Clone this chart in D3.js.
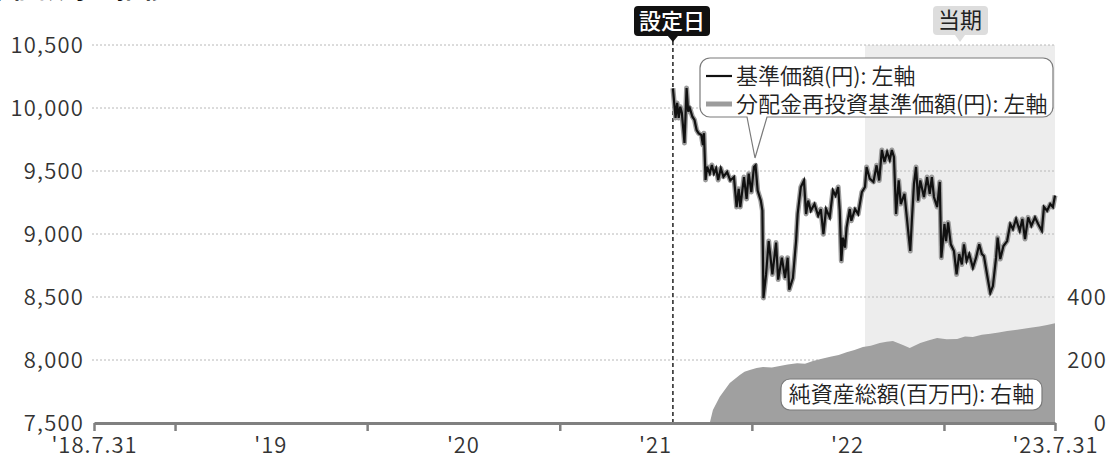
<!DOCTYPE html>
<html><head><meta charset="utf-8">
<script src="https://cdn.jsdelivr.net/npm/d3@7"></script>
<style>
body{margin:0;background:#fff;}
svg text{font-family:"Noto Sans CJK JP","Noto Sans",sans-serif;}
</style>
</head><body>
<svg id="c" width="1110" height="462"></svg>
<script>
// ---------- data ----------
const titleText = "基準価額等の推移";
const xStart = "2018-07-31";
const xEnd = "2023-07-31";
const settingDate = "2021-08-04";
const periodStart = "2022-08-04";

const navDates = ["2021-08-04","2021-08-06","2021-08-09","2021-08-12","2021-08-15","2021-08-18","2021-08-21","2021-08-26","2021-08-30","2021-09-02","2021-09-05","2021-09-10","2021-09-14","2021-09-18","2021-09-22","2021-09-27","2021-09-30","2021-10-02","2021-10-05","2021-10-08","2021-10-13","2021-10-17","2021-10-21","2021-10-25","2021-10-29","2021-11-03","2021-11-08","2021-11-15","2021-11-21","2021-11-28","2021-12-03","2021-12-07","2021-12-10","2021-12-17","2021-12-22","2021-12-26","2021-12-31","2022-01-05","2022-01-08","2022-01-12","2022-01-18","2022-01-21","2022-01-23","2022-01-28","2022-02-02","2022-02-09","2022-02-16","2022-02-20","2022-02-27","2022-03-05","2022-03-10","2022-03-13","2022-03-20","2022-03-26","2022-03-29","2022-04-04","2022-04-10","2022-04-14","2022-04-18","2022-04-23","2022-04-30","2022-05-07","2022-05-12","2022-05-17","2022-05-22","2022-05-29","2022-06-04","2022-06-09","2022-06-14","2022-06-17","2022-06-20","2022-06-23","2022-06-27","2022-06-30","2022-07-06","2022-07-09","2022-07-16","2022-07-22","2022-07-29","2022-08-04","2022-08-07","2022-08-13","2022-08-20","2022-08-26","2022-08-31","2022-09-05","2022-09-10","2022-09-15","2022-09-20","2022-09-24","2022-09-28","2022-10-02","2022-10-07","2022-10-11","2022-10-18","2022-10-25","2022-10-29","2022-11-01","2022-11-05","2022-11-09","2022-11-13","2022-11-17","2022-11-24","2022-11-30","2022-12-05","2022-12-09","2022-12-13","2022-12-19","2022-12-24","2022-12-27","2023-01-02","2023-01-05","2023-01-09","2023-01-14","2023-01-20","2023-01-25","2023-01-30","2023-02-04","2023-02-08","2023-02-13","2023-02-18","2023-02-25","2023-03-03","2023-03-09","2023-03-14","2023-03-18","2023-03-25","2023-03-30","2023-04-04","2023-04-10","2023-04-13","2023-04-18","2023-04-24","2023-05-01","2023-05-07","2023-05-12","2023-05-18","2023-05-25","2023-05-30","2023-06-04","2023-06-10","2023-06-16","2023-06-23","2023-06-29","2023-07-06","2023-07-10","2023-07-16","2023-07-22","2023-07-27","2023-07-31"];

// 基準価額(円)
const navValues = [10156,10063,9921,10040,9921,10010,9960,9722,10159,9971,
  10000,9931,9905,9825,9799,9786,9706,9800,9429,9534,
  9481,9548,9481,9521,9429,9521,9455,9492,9425,9452,
  9214,9359,9214,9452,9278,9479,9333,9532,9545,9345,
  9265,9185,8492,8679,8944,8679,8932,8638,8812,8651,
  8812,8558,8651,8944,9159,9373,9425,9159,9265,9185,
  9238,9145,9198,8998,9198,9132,9345,9305,9373,9185,
  8786,8971,8892,9051,9198,9105,9198,9159,9333,9373,
  9532,9439,9413,9545,9425,9667,9571,9651,9587,9667,
  9611,9159,9425,9238,9318,9025,8865,9105,9398,9532,
  9265,9425,9294,9452,9318,9452,9294,9214,9413,8812,
  9079,8944,9092,8918,8865,8679,8841,8758,8918,8786,
  8841,8732,8812,8918,8841,8825,8651,8532,8587,8812,
  8971,8801,8905,8944,9079,9039,9119,9025,9119,8960,
  9132,9065,9132,9079,9025,9214,9185,9238,9214,9305];

// 分配金再投資基準価額(円): no distributions were paid, so it coincides with the base price
const reinvestValues = navValues;

// 純資産総額(百万円)
const assetDates = ["2021-10-13","2021-10-19","2021-11-01","2021-11-20","2021-12-09","2021-12-18","2021-12-28","2022-01-10","2022-01-22","2022-02-08","2022-02-23","2022-03-10","2022-03-28","2022-04-12","2022-04-27","2022-05-14","2022-05-30","2022-06-15","2022-06-30","2022-07-15","2022-07-31","2022-08-15","2022-09-01","2022-09-14","2022-09-26","2022-10-15","2022-10-28","2022-11-17","2022-12-02","2022-12-19","2023-01-06","2023-01-26","2023-02-10","2023-02-25","2023-03-14","2023-03-30","2023-04-15","2023-05-01","2023-05-20","2023-06-14","2023-07-01","2023-07-16","2023-07-31"];
const assetValues = [0,41,83,127,152,163,168,175,178,176,181,186,190,188,197,204,210,216,225,232,241,245,254,258,260,248,238,254,262,270,266,267,275,273,280,283,287,292,296,302,306,311,317];

const leftTicks = [7500,8000,8500,9000,9500,10000,10500];
const rightTicks = [0,200,400];
const yearTickDates = ["2019-01-01","2020-01-01","2021-01-01","2022-01-01","2023-01-01"];
const xLabelDates = ["2018-07-31","2019-07-01","2020-07-01","2021-07-01","2022-07-01","2023-07-31"];
const xLabelTexts = ["'18.7.31","'19","'20","'21","'22","'23.7.31"];
const legendTexts = ["基準価額(円): 左軸","分配金再投資基準価額(円): 左軸"];
const assetLabel = "純資産総額(百万円): 右軸";
const settingLabel = "設定日";
const periodLabel = "当期";

// ---------- chart ----------
const FONT = '"Noto Sans CJK JP","Noto Sans",sans-serif';
const W = 350;
const svg = d3.select("#c");
const parse = d3.timeParse("%Y-%m-%d");
const x = d3.scaleTime().domain([parse(xStart), parse(xEnd)]).range([94, 1055]);
const y = d3.scaleLinear().domain([7500, 10500]).range([423, 45]);
const y2 = d3.scaleLinear().domain([0, 1200]).range([423, 45]);

function callout(x0, y0, x1, y1, r, baseL, baseR, tipX, tipY) {
  return `M${x0+r},${y0}H${x1-r}A${r},${r} 0 0 1 ${x1},${y0+r}V${y1-r}A${r},${r} 0 0 1 ${x1-r},${y1}` +
    `H${baseR}L${tipX},${tipY}L${baseL},${y1}H${x0+r}A${r},${r} 0 0 1 ${x0},${y1-r}V${y0+r}A${r},${r} 0 0 1 ${x0+r},${y0}Z`;
}

// title (cut off at the top edge, as in the source)
svg.append("text").attr("x", 168).attr("y", -2).attr("text-anchor", "end")
  .attr("font-size", 26).attr("font-weight", 700).attr("fill", "#111").text(titleText);

// current period shading
svg.append("rect")
  .attr("x", x(parse(periodStart))).attr("y", y(10500))
  .attr("width", x(parse(xEnd)) - x(parse(periodStart)))
  .attr("height", y(7500) - y(10500))
  .attr("fill", "#ededed");

// gridlines
svg.append("g").selectAll("line").data(leftTicks.filter(d => d > 7500)).join("line")
  .attr("x1", 92).attr("x2", x(parse(xEnd)))
  .attr("y1", d => y(d)).attr("y2", d => y(d))
  .attr("stroke", "#b8b8b8").attr("stroke-width", 1).attr("stroke-dasharray", "2,2");

// net assets area
const area = d3.area()
  .x((d, i) => x(parse(assetDates[i])))
  .y0(y2(0)).y1(d => y2(d));
svg.append("path").datum(assetValues).attr("d", area).attr("fill", "#a0a0a0");

// setting date line
const sx = x(parse(settingDate));
svg.append("line").attr("x1", sx).attr("x2", sx).attr("y1", 41).attr("y2", y(7500))
  .attr("stroke", "#111").attr("stroke-width", 1.4).attr("stroke-dasharray", "4,3");

// lines
const line = d3.line().x((d, i) => x(parse(navDates[i]))).y(d => y(d));
svg.append("path").datum(reinvestValues).attr("d", line).attr("fill", "none")
  .attr("stroke", "#9c9c9c").attr("stroke-width", 5).attr("stroke-linejoin", "round");
svg.append("path").datum(navValues).attr("d", line).attr("fill", "none")
  .attr("stroke", "#111").attr("stroke-width", 2.2);

// x axis
const xAxis = d3.axisBottom(x)
  .tickValues([xStart, ...yearTickDates, xEnd].map(parse))
  .tickSize(8).tickSizeOuter(0).tickFormat("");
const gx = svg.append("g").attr("transform", `translate(0,${y(7500)})`).call(xAxis);
gx.select(".domain").attr("stroke", "#808080").attr("stroke-width", 3);
gx.selectAll(".tick line").attr("stroke", "#808080").attr("stroke-width", 2.5);

svg.append("g").selectAll("text").data(xLabelDates).join("text")
  .attr("x", d => x(parse(d)) + 0.5).attr("y", 452.5).attr("text-anchor", "middle")
  .attr("font-size", 22).attr("font-weight", W).attr("letter-spacing", 1)
  .attr("fill", "#333").text((d, i) => xLabelTexts[i]);

// left axis
const gy = svg.append("g").attr("transform", "translate(92,0)")
  .call(d3.axisLeft(y).tickValues(leftTicks).tickSize(0).tickPadding(8).tickFormat(d3.format(",")));
gy.select(".domain").remove();
gy.attr("font-family", FONT).attr("font-size", 22);
gy.selectAll("text").attr("fill", "#333").attr("font-weight", W).attr("letter-spacing", 1.2);

// right axis
const gy2 = svg.append("g").attr("transform", `translate(${x(parse(xEnd))},0)`)
  .call(d3.axisRight(y2).tickValues(rightTicks).tickSize(0).tickFormat(d3.format(",")));
gy2.select(".domain").remove();
gy2.attr("font-family", FONT).attr("font-size", 22);
gy2.selectAll("text").attr("fill", "#333").attr("font-weight", W).attr("letter-spacing", 1.2)
  .attr("text-anchor", "end").attr("x", 52);

// 設定日 label
svg.append("path").attr("d", callout(634, 6, 710, 36, 4, sx - 5, sx + 5, sx, 42)).attr("fill", "#111");
svg.append("text").attr("x", (634 + 710) / 2).attr("y", 21).attr("dy", "0.36em")
  .attr("text-anchor", "middle").attr("font-size", 22).attr("font-weight", 500)
  .attr("fill", "#fff").text(settingLabel);

// 当期 label
const px = (x(parse(periodStart)) + x(parse(xEnd))) / 2;
svg.append("path").attr("d", callout(px - 27, 6, px + 28, 35, 4, px - 5, px + 5, px, 42)).attr("fill", "#dddddd");
svg.append("text").attr("x", px).attr("y", 20.5).attr("dy", "0.36em")
  .attr("text-anchor", "middle").attr("font-size", 22).attr("font-weight", 400)
  .attr("fill", "#222").text(periodLabel);

// legend callout
svg.append("path").attr("d", callout(700, 58, 1053, 117, 10, 747, 767, 755, 158))
  .attr("fill", "#fff").attr("stroke", "#7a7a7a").attr("stroke-width", 1.2);
svg.append("line").attr("x1", 706).attr("x2", 732).attr("y1", 76).attr("y2", 76)
  .attr("stroke", "#111").attr("stroke-width", 2.2);
svg.append("line").attr("x1", 706).attr("x2", 732).attr("y1", 104).attr("y2", 104)
  .attr("stroke", "#9c9c9c").attr("stroke-width", 5);
svg.append("g").selectAll("text").data(legendTexts).join("text")
  .attr("x", 736).attr("y", (d, i) => 76 + i * 28).attr("dy", "0.36em")
  .attr("font-size", 22).attr("font-weight", W).attr("fill", "#222").text(d => d);

// net assets label
svg.append("rect").attr("x", 781).attr("y", 379).attr("width", 261).attr("height", 31).attr("rx", 9)
  .attr("fill", "#fff").attr("stroke", "#7a7a7a").attr("stroke-width", 1.2);
svg.append("text").attr("x", 911.5).attr("y", 394.5).attr("dy", "0.36em").attr("text-anchor", "middle")
  .attr("font-size", 22).attr("font-weight", W).attr("fill", "#222").text(assetLabel);
</script>
</body></html>
